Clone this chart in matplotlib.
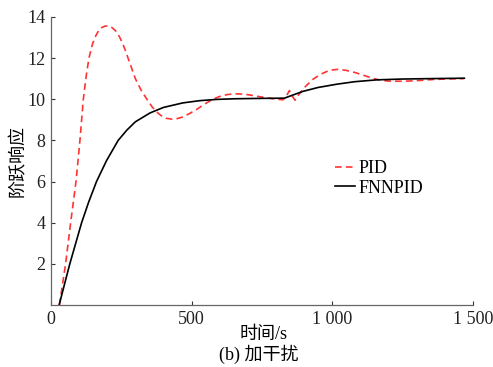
import matplotlib
matplotlib.use("Agg")
import matplotlib.pyplot as plt

plt.rcParams['font.family'] = ['Liberation Serif', 'Noto Sans CJK SC']
plt.rcParams['font.size'] = 13

# PID response (red dashed)
pid_t = [30, 52, 70, 89, 103, 115, 125, 135, 148, 160, 170, 180, 192, 203, 215, 230, 243,
         255, 265, 274, 287, 300, 320, 341, 360, 380, 395, 410, 431, 450, 470, 495, 520,
         545, 572, 590, 610, 630, 654, 680, 700, 730, 760, 795, 825, 835, 848, 858, 868,
         880, 900, 930, 960, 985, 1000, 1020, 1050, 1080, 1110, 1140, 1170, 1200, 1250,
         1300, 1350, 1400, 1468]
pid_y = [0, 2, 4, 6, 8, 10, 11.1, 12, 12.7, 13.1, 13.35, 13.48, 13.55, 13.56, 13.5, 13.32, 13.05,
         12.7, 12.35, 12.0, 11.5, 11.0, 10.45, 10.0, 9.62, 9.33, 9.17, 9.07, 9.03, 9.06, 9.14, 9.32, 9.52,
         9.75, 9.97, 10.08, 10.18, 10.23, 10.26, 10.25, 10.22, 10.15, 10.08, 10.01, 9.97, 10.1, 10.42, 10.15, 9.95,
         10.2, 10.55, 10.95, 11.22, 11.37, 11.42, 11.45, 11.4, 11.3, 11.17, 11.03, 10.93, 10.88, 10.87,
         10.9, 10.95, 10.98, 11.0]

# FNNPID response (black solid)
fnn_t = [29, 48, 67, 88, 109, 134, 162, 197, 239, 270, 300, 352, 400, 469, 530, 590, 650,
         750, 830, 860, 896, 950, 1017, 1080, 1159, 1250, 1350, 1470]
fnn_y = [0, 1, 2, 3, 4, 5, 6, 7, 8, 8.5, 8.9, 9.33, 9.6, 9.82, 9.93, 9.99, 10.02,
         10.04, 10.05, 10.2, 10.38, 10.57, 10.73, 10.85, 10.94, 10.98, 11.0, 11.02]

xticks = [0, 500, 1000, 1500]
xticklabels = ['0', '500', '1 000', '1 500']
yticks = [2, 4, 6, 8, 10, 12, 14]

fig = plt.figure(figsize=(4.93, 3.67), dpi=100)
ax = fig.add_axes([0.1034, 0.169, 0.8556, 0.785])

ax.plot(pid_t, pid_y, color='#ff3333', linestyle='--', linewidth=1.2, dashes=(4, 2.5), label='PID')
ax.plot(fnn_t, fnn_y, color='black', linewidth=1.2, label='FNNPID')

ax.set_xlim(0, 1500)
ax.set_ylim(0, 14)
ax.set_xticks(xticks)
ax.set_xticklabels(xticklabels)
ax.set_yticks(yticks)
ax.tick_params(direction='in', length=3, colors='#333333', labelcolor='#222222', labelsize=13, pad=4)

for s in ['top', 'right']:
    ax.spines[s].set_visible(False)
for s in ['left', 'bottom']:
    ax.spines[s].set_color('#666666')
    ax.spines[s].set_linewidth(0.9)

ax.legend(loc='center left', bbox_to_anchor=(0.635, 0.44), frameon=False,
          handlelength=1.1, handletextpad=0.2, labelspacing=0.15, fontsize=13)

fig.text(0.037, 0.56, '阶跃响应', ha='center', va='center', rotation=90, fontsize=13)
fig.text(0.534, 0.088, '时间/s', ha='center', va='center', fontsize=13)
fig.text(0.524, 0.035, '(b) 加干扰', ha='center', va='center', fontsize=13)

fig.savefig('out.png', dpi=100)
